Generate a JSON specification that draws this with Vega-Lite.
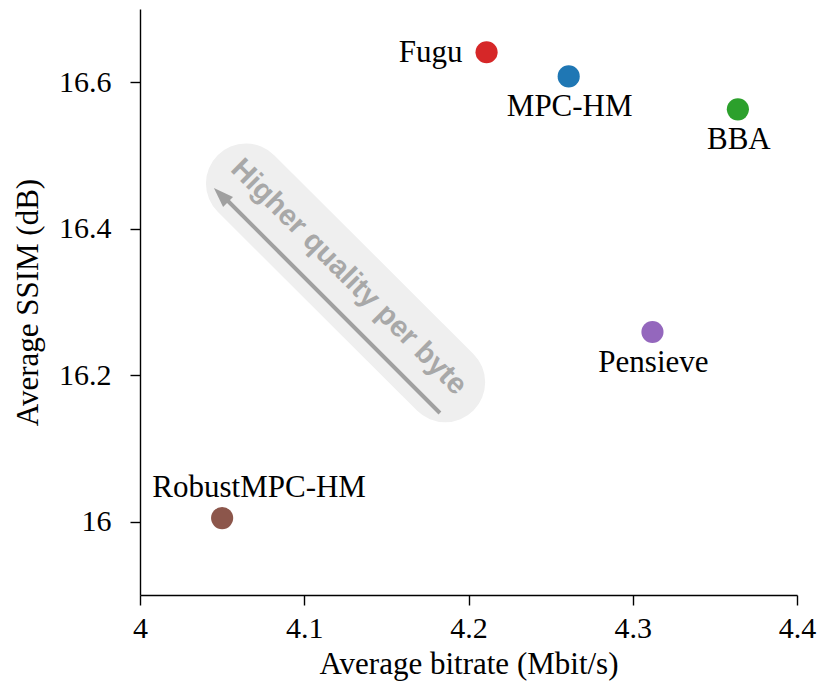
{
  "$schema": "https://vega.github.io/schema/vega-lite/v6.json",
  "width": 657,
  "height": 586,
  "autosize": {"type": "none"},
  "padding": {"left": 140, "top": 9, "right": 23, "bottom": 93},
  "background": "white",
  "config": {
    "view": {"stroke": null},
    "axis": {
      "grid": false,
      "domainColor": "black",
      "domainWidth": 1.4,
      "tickColor": "black",
      "tickWidth": 1.4,
      "tickSize": 10,
      "labelFont": "Liberation Serif",
      "labelFontSize": 30,
      "labelColor": "black",
      "labelFlush": false,
      "labelOverlap": false,
      "titleFont": "Liberation Serif",
      "titleFontSize": 31,
      "titleFontWeight": "normal",
      "titleColor": "black"
    }
  },
  "datasets": {
    "schemes": [
      {"scheme": "Fugu", "bitrate": 4.211, "ssim": 16.641},
      {"scheme": "MPC-HM", "bitrate": 4.261, "ssim": 16.608},
      {"scheme": "BBA", "bitrate": 4.364, "ssim": 16.563},
      {"scheme": "Pensieve", "bitrate": 4.312, "ssim": 16.259},
      {"scheme": "RobustMPC-HM", "bitrate": 4.05, "ssim": 16.005}
    ],
    "badge": [
      {"bitrate": 4.0645, "ssim": 16.4618, "bitrate2": 4.1858, "ssim2": 16.1905}
    ],
    "arrow": [
      {"bitrate": 4.1826, "ssim": 16.1485, "bitrate2": 4.0499, "ssim2": 16.4461}
    ],
    "arrowTip": [
      {"bitrate": 4.0493, "ssim": 16.4461}
    ],
    "note": [
      {"bitrate": 4.1272, "ssim": 16.3341, "text": "Higher quality per byte"}
    ]
  },
  "layer": [
    {
      "data": {"name": "badge"},
      "mark": {"type": "rule", "color": "#efefef", "strokeWidth": 80, "strokeCap": "round"},
      "encoding": {
        "x": {"field": "bitrate", "type": "quantitative"},
        "y": {"field": "ssim", "type": "quantitative"},
        "x2": {"field": "bitrate2"},
        "y2": {"field": "ssim2"}
      }
    },
    {
      "data": {"name": "arrow"},
      "mark": {"type": "rule", "color": "#a0a0a0", "strokeWidth": 4},
      "encoding": {
        "x": {"field": "bitrate", "type": "quantitative"},
        "y": {"field": "ssim", "type": "quantitative"},
        "x2": {"field": "bitrate2"},
        "y2": {"field": "ssim2"}
      }
    },
    {
      "data": {"name": "arrowTip"},
      "mark": {
        "type": "point",
        "shape": "M0,-1L0.7,1L-0.7,1Z",
        "size": 400,
        "angle": -45,
        "filled": true,
        "color": "#a0a0a0",
        "opacity": 1
      },
      "encoding": {
        "x": {"field": "bitrate", "type": "quantitative"},
        "y": {"field": "ssim", "type": "quantitative"}
      }
    },
    {
      "data": {"name": "note"},
      "mark": {
        "type": "text",
        "angle": 45,
        "align": "center",
        "baseline": "middle",
        "font": "Liberation Sans",
        "fontWeight": "bold",
        "fontSize": 29.5,
        "color": "#a8a8a8"
      },
      "encoding": {
        "x": {"field": "bitrate", "type": "quantitative"},
        "y": {"field": "ssim", "type": "quantitative"},
        "text": {"field": "text"}
      }
    },
    {
      "data": {"name": "schemes"},
      "layer": [
        {
          "mark": {"type": "circle", "size": 490, "opacity": 1},
          "encoding": {
            "x": {
              "field": "bitrate",
              "type": "quantitative",
              "scale": {"domain": [4, 4.4], "nice": false, "zero": false},
              "axis": {
                "title": "Average bitrate (Mbit/s)",
                "values": [4, 4.1, 4.2, 4.3, 4.4],
                "format": "~g",
                "labelPadding": 8,
                "titlePadding": 6
              }
            },
            "y": {
              "field": "ssim",
              "type": "quantitative",
              "scale": {"domain": [15.9, 16.7], "nice": false, "zero": false},
              "axis": {
                "title": "Average SSIM (dB)",
                "values": [16, 16.2, 16.4, 16.6],
                "format": "~g",
                "labelPadding": 19,
                "titlePadding": 14
              }
            },
            "color": {
              "field": "scheme",
              "type": "nominal",
              "scale": {
                "domain": ["Fugu", "MPC-HM", "BBA", "Pensieve", "RobustMPC-HM"],
                "range": ["#d62728", "#1f77b4", "#2ca02c", "#9467bd", "#8c564b"]
              },
              "legend": null
            }
          }
        },
        {
          "transform": [{"filter": "datum.scheme === 'Fugu'"}],
          "mark": {"type": "text", "align": "right", "baseline": "alphabetic", "dx": -24, "dy": 10, "font": "Liberation Serif", "fontSize": 31, "color": "black"},
          "encoding": {
            "x": {"field": "bitrate", "type": "quantitative"},
            "y": {"field": "ssim", "type": "quantitative"},
            "text": {"field": "scheme"}
          }
        },
        {
          "transform": [{"filter": "datum.scheme === 'MPC-HM' || datum.scheme === 'BBA' || datum.scheme === 'Pensieve'"}],
          "mark": {"type": "text", "align": "center", "baseline": "alphabetic", "dx": 1, "dy": 40, "font": "Liberation Serif", "fontSize": 31, "color": "black"},
          "encoding": {
            "x": {"field": "bitrate", "type": "quantitative"},
            "y": {"field": "ssim", "type": "quantitative"},
            "text": {"field": "scheme"}
          }
        },
        {
          "transform": [{"filter": "datum.scheme === 'RobustMPC-HM'"}],
          "mark": {"type": "text", "align": "center", "baseline": "alphabetic", "dx": 37, "dy": -21, "font": "Liberation Serif", "fontSize": 31, "color": "black"},
          "encoding": {
            "x": {"field": "bitrate", "type": "quantitative"},
            "y": {"field": "ssim", "type": "quantitative"},
            "text": {"field": "scheme"}
          }
        }
      ]
    }
  ]
}
